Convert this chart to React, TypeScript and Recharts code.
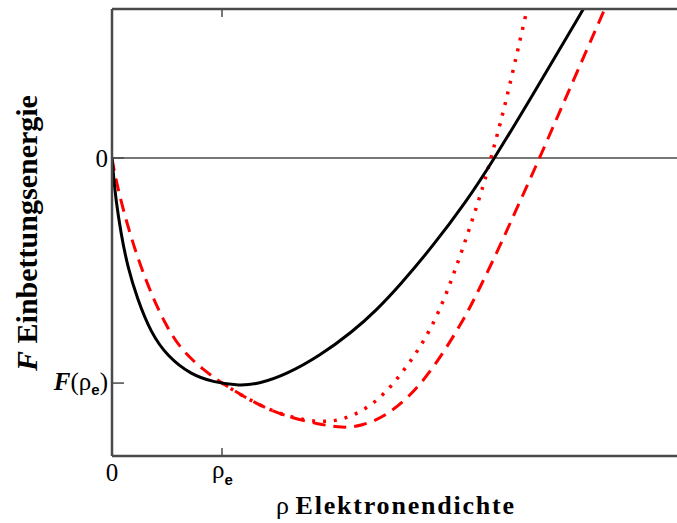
import React from "react";
import { LineChart, Line, XAxis, YAxis, ReferenceLine } from "recharts";

// rho in units of rho_e, F in units of |F(rho_e)|
// black solid curve
const solidRho = [
  0, 0.014, 0.035, 0.08, 0.141, 0.232, 0.353, 0.505, 0.716, 0.929, 1.159,
  1.341, 1.584, 1.886, 2.186, 2.402, 2.614, 2.914, 3.223, 3.45, 3.795, 4.277,
  4.432,
];
const solidF = [
  0, -0.08, -0.184, -0.331, -0.482, -0.629, -0.776, -0.882, -0.962, -0.997,
  -1.012, -1.003, -0.962, -0.88, -0.772, -0.677, -0.567, -0.393, -0.192,
  -0.022, 0.255, 0.655, 0.785,
];

// red dashed curve
const dashedRho = [
  0, 0.02, 0.08, 0.171, 0.262, 0.353, 0.475, 0.625, 0.838, 0.995, 1.277,
  1.584, 1.886, 2.095, 2.277, 2.493, 2.705, 2.914, 3.186, 3.341, 3.523, 3.641,
  3.768, 3.886, 4.005, 4.132, 4.314, 4.477, 4.57,
];
const dashedF = [
  0, -0.06, -0.19, -0.35, -0.482, -0.598, -0.731, -0.851, -0.945, -0.998,
  -1.085, -1.15, -1.183, -1.2, -1.19, -1.145, -1.06, -0.94, -0.73, -0.58,
  -0.395, -0.265, -0.13, 0.0, 0.133, 0.275, 0.478, 0.66, 0.763,
];

// red dotted curve (from rho_e on)
const dottedRho = [
  0.995, 1.277, 1.584, 1.886, 2.095, 2.314, 2.495, 2.641, 2.768, 2.886, 3.005,
  3.095, 3.186, 3.277, 3.368, 3.432, 3.495, 3.55, 3.586, 3.686, 3.75, 3.814,
];
const dottedF = [
  -0.998, -1.085, -1.15, -1.175, -1.165, -1.115, -1.04, -0.951, -0.865, -0.77,
  -0.645, -0.53, -0.405, -0.273, -0.135, -0.024, 0.091, 0.193, 0.264, 0.473,
  0.611, 0.749,
];

const xTicks = [0, 1];
const yTicks = [-1, 0];

const toRows = (xs: number[], ys: number[]) => xs.map((r, i) => ({ rho: r, f: ys[i] }));
const solidData = toRows(solidRho, solidF);
const dashedData = toRows(dashedRho, dashedF);
const dottedData = toRows(dottedRho, dottedF);

const SERIF = "'Liberation Serif', 'Times New Roman', serif";
const SANS = "'Liberation Sans', Arial, sans-serif";
const AXIS = "#4a4a4a";

function YTick(props: any) {
  const { x, y, payload } = props;
  return (
    <g>
      <line x1={x} y1={y} x2={x + 12} y2={y} stroke={AXIS} strokeWidth={1.5} />
      {payload.value === 0 ? (
        <text x={x - 4} y={y + 9} textAnchor="end" fontFamily={SERIF} fontSize={25} fill="#000">
          0
        </text>
      ) : (
        <text x={x - 4} y={y + 7} textAnchor="end" fontFamily={SERIF} fontSize={25} fill="#000">
          <tspan fontWeight="bold" fontStyle="italic">F</tspan>
          <tspan>(ρ</tspan>
          <tspan fontFamily={SANS} fontWeight="bold" fontSize={15} dy={5}>e</tspan>
          <tspan dy={-5}>)</tspan>
        </text>
      )}
    </g>
  );
}

function XTick(props: any) {
  const { x, y, payload } = props;
  return (
    <g>
      {payload.value !== 0 && (
        <line x1={x} y1={y} x2={x} y2={y - 8} stroke={AXIS} strokeWidth={1.5} />
      )}
      {payload.value === 0 ? (
        <text x={x} y={y + 25} textAnchor="middle" fontFamily={SERIF} fontSize={25} fill="#000">
          0
        </text>
      ) : (
        <text x={x - 10} y={y + 22} textAnchor="start" fontFamily={SERIF} fontSize={25} fill="#000">
          <tspan>ρ</tspan>
          <tspan fontFamily={SANS} fontWeight="bold" fontSize={15} dy={7}>e</tspan>
        </text>
      )}
    </g>
  );
}

function TopTick(props: any) {
  const { x, y } = props;
  return <line x1={x} y1={y} x2={x} y2={y + 8} stroke={AXIS} strokeWidth={1.5} />;
}

export default function App() {
  return (
    <div
      style={{
        position: "absolute",
        left: 0,
        top: 0,
        width: 677,
        height: 523,
        overflow: "hidden",
        background: "#fff",
      }}
    >
      <LineChart width={677} height={523} margin={{ top: 0, right: 0, bottom: 0, left: 0 }}>
        <XAxis
          xAxisId="bottom"
          dataKey="rho"
          type="number"
          domain={[0, 5.136]}
          allowDataOverflow
          ticks={xTicks}
          height={67}
          tickSize={0}
          tickMargin={0}
          tick={<XTick />}
          axisLine={{ stroke: AXIS, strokeWidth: 2.5 }}
          tickLine={false}
          label={{
            content: () => (
              <text x={276} y={514} fontFamily={SERIF} fontSize={26} fill="#000">
                <tspan>ρ </tspan>
                <tspan fontWeight="bold" letterSpacing={1.8}>Elektronendichte</tspan>
              </text>
            ),
          }}
        />
        <XAxis
          xAxisId="top"
          orientation="top"
          dataKey="rho"
          type="number"
          domain={[0, 5.136]}
          allowDataOverflow
          ticks={[1]}
          height={9}
          tickSize={0}
          tickMargin={0}
          tick={<TopTick />}
          axisLine={{ stroke: AXIS, strokeWidth: 2.5 }}
          tickLine={false}
        />
        <YAxis
          dataKey="f"
          type="number"
          domain={[-1.324, 0.662]}
          allowDataOverflow
          ticks={yTicks}
          width={112}
          tickSize={0}
          tickMargin={0}
          tick={<YTick />}
          axisLine={{ stroke: AXIS, strokeWidth: 2.5 }}
          tickLine={false}
          label={{
            content: () => (
              <text
                x={0}
                y={0}
                transform="translate(37,233) rotate(-90)"
                textAnchor="middle"
                fontFamily={SERIF}
                fontSize={30}
                fontWeight="bold"
                fill="#000"
              >
                <tspan fontStyle="italic">F</tspan>
                <tspan> Einbettungsenergie</tspan>
              </text>
            ),
          }}
        />
        <ReferenceLine xAxisId="bottom" y={0} stroke={AXIS} strokeWidth={1.5} />
        <Line
          xAxisId="bottom"
          data={dottedData}
          type="basis"
          dataKey="f"
          stroke="#ff0000"
          strokeWidth={3.5}
          strokeDasharray="3 8"
          dot={false}
          isAnimationActive={false}
        />
        <Line
          xAxisId="bottom"
          data={dashedData}
          type="basis"
          dataKey="f"
          stroke="#ff0000"
          strokeWidth={3}
          strokeDasharray="13 8"
          dot={false}
          isAnimationActive={false}
        />
        <Line
          xAxisId="bottom"
          data={solidData}
          type="basis"
          dataKey="f"
          stroke="#000"
          strokeWidth={3}
          dot={false}
          isAnimationActive={false}
        />
      </LineChart>
    </div>
  );
}
